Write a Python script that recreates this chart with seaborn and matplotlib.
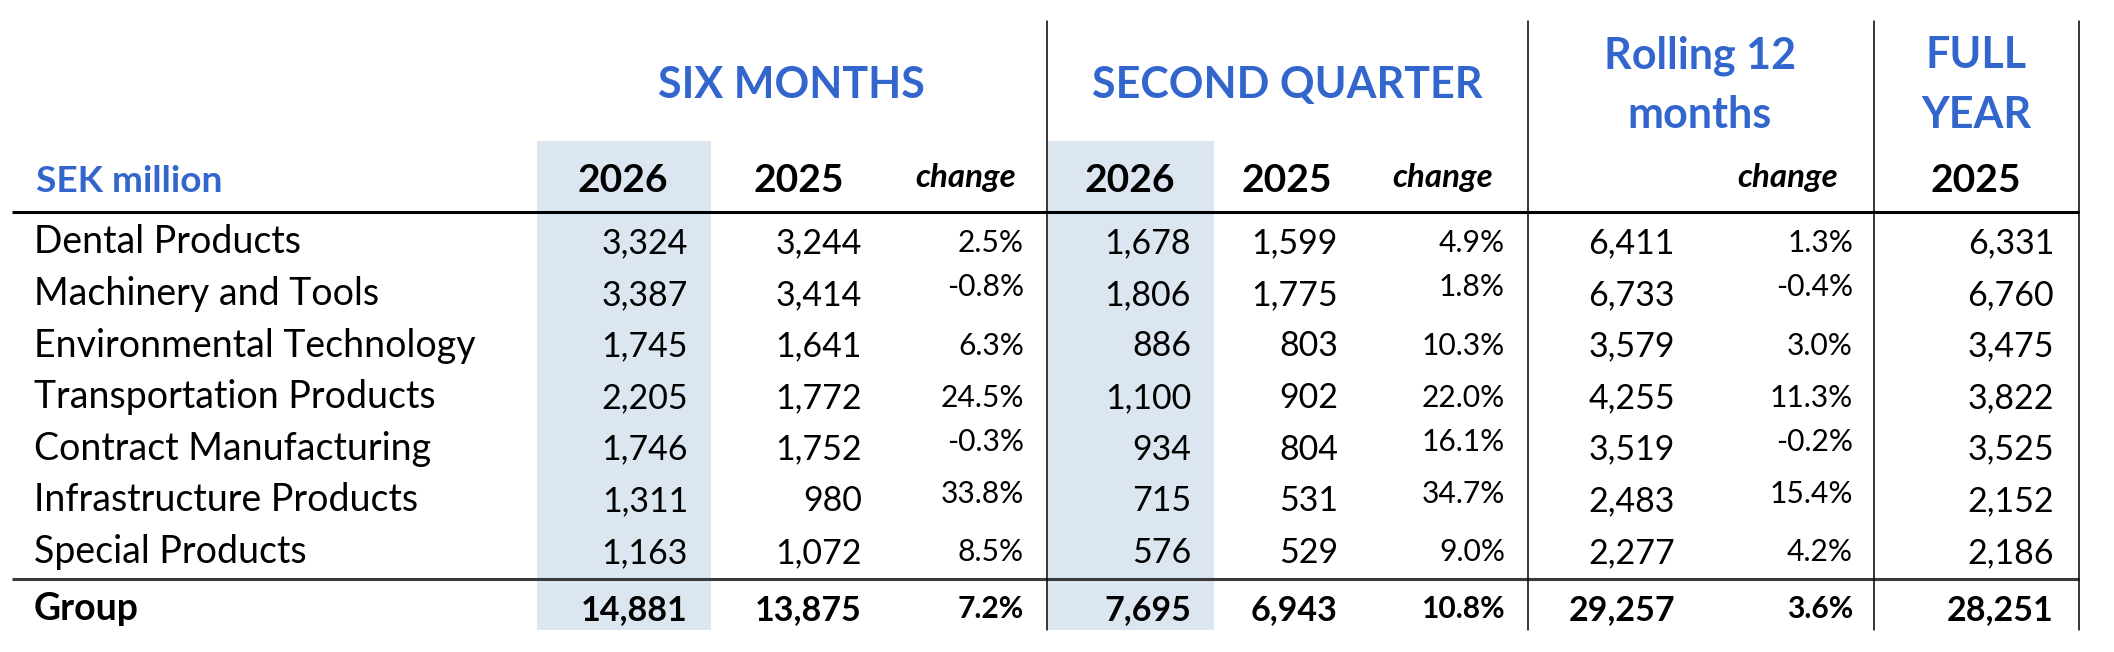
import matplotlib
matplotlib.use("Agg")
import matplotlib.pyplot as plt
import seaborn as sns

# ---------------- data ----------------
segments = ["Dental Products", "Machinery and Tools", "Environmental Technology",
            "Transportation Products", "Contract Manufacturing",
            "Infrastructure Products", "Special Products"]
six_2026 = [3324, 3387, 1745, 2205, 1746, 1311, 1163]
six_2025 = [3244, 3414, 1641, 1772, 1752, 980, 1072]
six_chg = [2.5, -0.8, 6.3, 24.5, -0.3, 33.8, 8.5]
q2_2026 = [1678, 1806, 886, 1100, 934, 715, 576]
q2_2025 = [1599, 1775, 803, 902, 804, 531, 529]
q2_chg = [4.9, 1.8, 10.3, 22.0, 16.1, 34.7, 9.0]
r12_val = [6411, 6733, 3579, 4255, 3519, 2483, 2277]
r12_chg = [1.3, -0.4, 3.0, 11.3, -0.2, 15.4, 4.2]
fy_2025 = [6331, 6760, 3475, 3822, 3525, 2152, 2186]
group_label = "Group"
group_vals = [14881, 13875, 7.2, 7695, 6943, 10.8, 29257, 3.6, 28251]
unit_label = "SEK million"
section_titles = ["SIX MONTHS", "SECOND QUARTER", "Rolling 12\nmonths", "FULL\nYEAR"]
col_headers = ["2026", "2025", "change", "2026", "2025", "change", "", "change", "2025"]

# ---------------- layout ----------------
W, H = 2114, 652
BLUE = "#3366CC"
SHADE = "#DCE6F1"
FONT = "Lato"
px = 72 / 100.0  # pixel -> points at dpi 100

sns.set_theme(style="white")
plt.rcParams["font.family"] = [FONT, "DejaVu Sans"]

fig = plt.figure(figsize=(W / 100, H / 100), dpi=100)
ax = fig.add_axes([0, 0, 1, 1])
ax.set_xlim(0, W)
ax.set_ylim(H, 0)
ax.axis("off")
sns.despine(ax=ax, left=True, bottom=True)

# shaded "current year" columns
for x0, x1 in [(537, 711), (1048, 1214)]:
    ax.axvspan(x0, x1, ymin=1 - 630 / H, ymax=1 - 141 / H, color=SHADE, lw=0, zorder=0)

# lines
ax.plot([12, 2079], [212, 212], color="black", lw=2.2, solid_capstyle="butt", zorder=2)
ax.plot([12, 2079], [578.5, 578.5], color="#3a3a3a", lw=2.2, solid_capstyle="butt", zorder=2)
for xv in [1047, 1528, 1874, 2079]:
    ax.plot([xv, xv], [21, 630], color="black", lw=1.1, zorder=2)

# column right edges (numbers right aligned)
col_right = [688, 862, 1024, 1191, 1338, 1505, 1675, 1853, 2054]
hdr_center = [623, 799, 966, 1130, 1287, 1443, None, 1788, 1976]
is_pct = [False, False, True, False, False, True, False, True, False]

NUM = 34 * px
LAB = 37.5 * px
PCT = 30 * px

# section titles
sec_pos = [(791, 98), (1287, 98), (1700, 68), (1976, 68)]
for (cx, by), t in zip(sec_pos, section_titles):
    lines = t.split("\n")
    for k, ln in enumerate(lines):
        ax.text(cx, by + 60 * k, ln, ha="center", va="baseline", color=BLUE,
                fontsize=43 * px, fontweight="bold")

ax.text(36, 191.5, unit_label, ha="left", va="baseline", color=BLUE,
        fontsize=37 * px, fontweight="bold")

for c, h in enumerate(col_headers):
    if not h:
        continue
    if h == "change":
        ax.text(hdr_center[c], 187, h, ha="center", va="baseline", color="black",
                fontsize=33 * px, fontweight="bold", fontstyle="italic")
    else:
        ax.text(hdr_center[c], 192.5, h, ha="center", va="baseline", color="black",
                fontsize=39 * px, fontweight="bold")

columns = [six_2026, six_2025, six_chg, q2_2026, q2_2025, q2_chg, r12_val, r12_chg, fy_2025]
raised_rows = {1, 4, 5}  # change cells sit higher in these rows

def fmt(v, pct):
    return f"{v:.1f}%" if pct else f"{v:,.0f}"

row_step = 51.6
for i, name in enumerate(segments):
    base = 253.3 + row_step * i
    ax.text(34, base, name, ha="left", va="baseline", color="black", fontsize=LAB)
    for c, col in enumerate(columns):
        if is_pct[c]:
            b = base - 1.5 - (7 if i in raised_rows else 0)
            ax.text(col_right[c], b, fmt(col[i], True), ha="right", va="baseline",
                    color="black", fontsize=PCT)
        else:
            ax.text(col_right[c], base, fmt(col[i], False), ha="right", va="baseline",
                    color="black", fontsize=NUM)

gbase = 620
ax.text(34, gbase, group_label, ha="left", va="baseline", color="black",
        fontsize=LAB, fontweight="bold")
for c, v in enumerate(group_vals):
    if is_pct[c]:
        ax.text(col_right[c], gbase - 1.5, fmt(v, True), ha="right", va="baseline",
                color="black", fontsize=PCT, fontweight="bold")
    else:
        ax.text(col_right[c], gbase, fmt(v, False), ha="right", va="baseline",
                color="black", fontsize=NUM, fontweight="bold")

fig.savefig("out.png", dpi=100, facecolor="white")
